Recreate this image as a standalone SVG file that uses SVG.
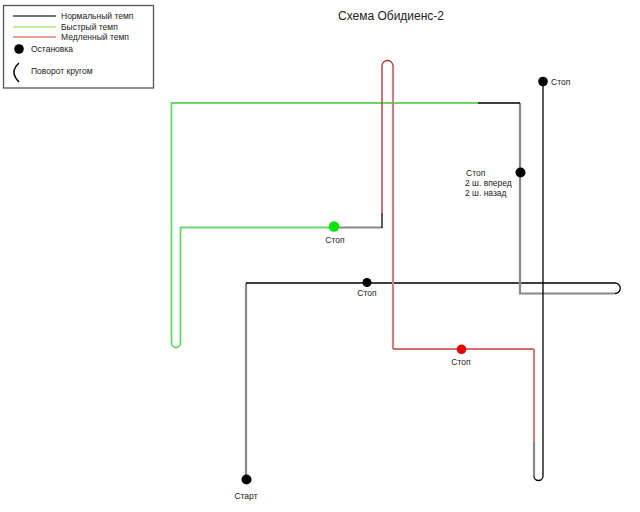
<svg xmlns="http://www.w3.org/2000/svg" width="640" height="512" viewBox="0 0 640 512">
<style>
text{font-family:"Liberation Sans",Arial,sans-serif;fill:#222}
.lbl{font-size:8.5px}
.lg{font-size:8.5px}
.title{font-size:12px}
.blk{stroke:#000;stroke-width:1.3;fill:none}
.gry{stroke:#888;stroke-width:2.2;fill:none}
.grn{stroke:#6ad66a;stroke-width:1.8;fill:none}
.rdd{stroke:#b82a2a;stroke-width:1.3;fill:none}
.rdl{stroke:#c88282;stroke-width:2.2;fill:none}
.rdh{stroke:#c83a3a;stroke-width:1.5;fill:none}
</style>
<rect width="640" height="512" fill="#fff"/>
<g id="legend">
<rect x="3.5" y="5.5" width="150" height="82.5" fill="none" stroke="#555" stroke-width="1.3"/>
<line x1="13" y1="16" x2="56" y2="16" stroke="#777" stroke-width="2"/>
<line x1="13" y1="27" x2="56" y2="27" stroke="#c6eea2" stroke-width="2"/>
<line x1="13" y1="37" x2="56" y2="37" stroke="#d04040" stroke-width="1.2"/>
<text class="lg" x="61" y="19">Нормальный темп</text>
<text class="lg" x="61" y="30">Быстрый темп</text>
<text class="lg" x="61" y="40">Медленный темп</text>
<circle cx="19" cy="49" r="4.8" fill="#000"/>
<text class="lg" x="31" y="52">Остановка</text>
<path d="M19,63 Q9,72 19,82" fill="none" stroke="#000" stroke-width="1.5"/>
<text class="lg" x="31" y="74">Поворот кругом</text>
</g>
<text class="title" x="391" y="20" text-anchor="middle">Схема Обидиенс-2</text>
<g id="connectors">
<path class="gry" d="M246,480 V283"/>
<path class="blk" d="M246,283 H615 A5.25,5.25 0 0 1 615,293.5"/>
<path class="gry" d="M615,293.5 H520 V103"/>
<path class="blk" d="M520,103 H478"/>
<path class="grn" d="M478,103 H171.5 V343 A4.5,4.5 0 0 0 180.5,343 V227.5 H334"/>
<path class="gry" d="M334,227.5 H382"/>
<path class="blk" d="M382,228 V213"/>
<path class="rdd" d="M382,213 V66 A5.5,5.5 0 0 1 393,66"/>
<path class="rdl" d="M393,66 V349"/>
<path class="rdh" d="M393,349 H534"/>
<path class="rdl" d="M534,349 V442"/>
<path class="gry" d="M534,442 V476"/>
<path class="blk" d="M534,476 A4.5,4.5 0 0 0 543,476 V81"/>
</g>
<g id="start">
<circle cx="246.5" cy="479.5" r="5" fill="#000"/>
<text class="lbl" x="246" y="499" text-anchor="middle">Старт</text>
</g>
<g id="stop1">
<circle cx="367" cy="282.5" r="4.5" fill="#000"/>
<text class="lbl" x="367" y="296" text-anchor="middle">Стоп</text>
</g>
<g id="stop2">
<circle cx="520.5" cy="172.5" r="5" fill="#000"/>
<text class="lbl" x="466" y="176">Стоп</text>
<text class="lbl" x="465" y="186">2 ш. вперед</text>
<text class="lbl" x="465" y="196">2 ш. назад</text>
</g>
<g id="stop3">
<circle cx="543" cy="81.5" r="4.8" fill="#000"/>
<text class="lbl" x="551" y="85">Стоп</text>
</g>
<g id="stop4">
<circle cx="334" cy="226.5" r="5.2" fill="#00e600"/>
<text class="lbl" x="335" y="243" text-anchor="middle">Стоп</text>
</g>
<g id="stop5">
<circle cx="461.5" cy="349.3" r="4.8" fill="#e60000"/>
<text class="lbl" x="461" y="365" text-anchor="middle">Стоп</text>
</g>
</svg>
